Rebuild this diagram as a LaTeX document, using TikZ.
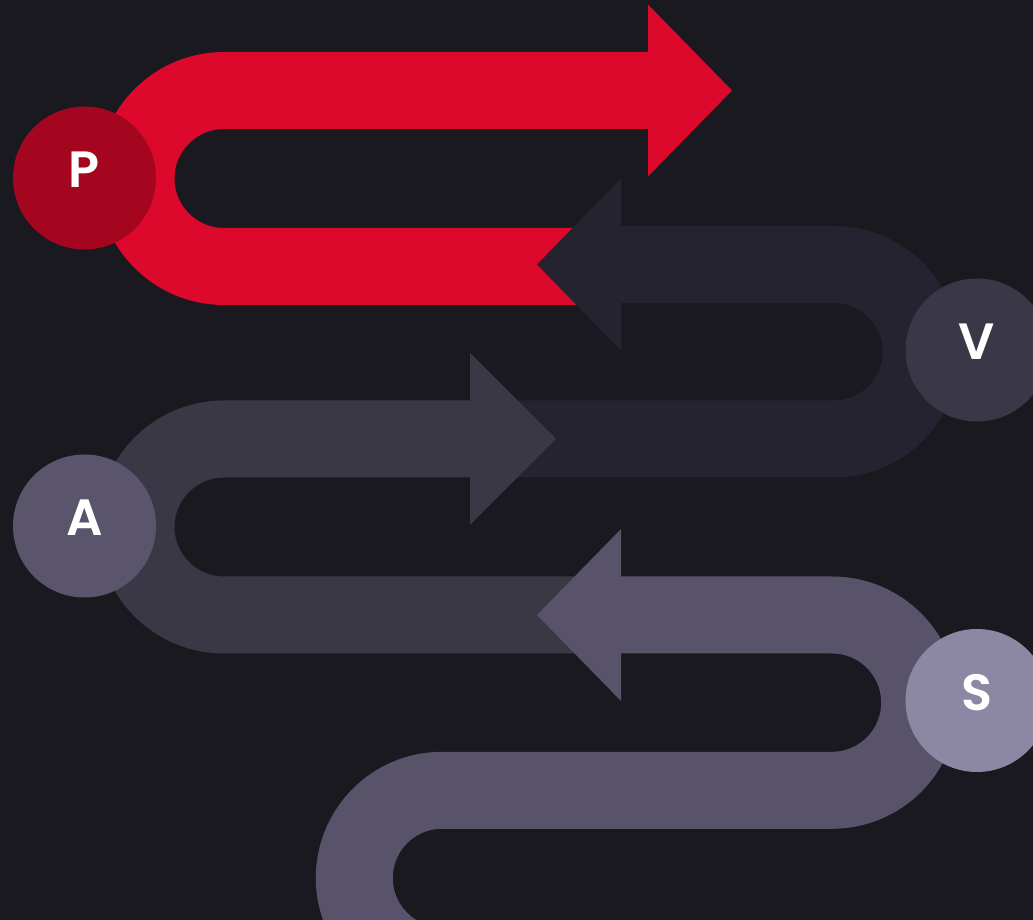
\documentclass[tikz,border=0pt]{standalone}
\usepackage{fontspec}
\setmainfont{Poppins}
\newfontfamily\badgefont{Poppins SemiBold}
\usetikzlibrary{positioning}

\definecolor{bgcol}{HTML}{1A191F}
\definecolor{pband}{HTML}{DC092C}
\definecolor{pdot}{HTML}{A4061F}
\definecolor{vband}{HTML}{25232F}
\definecolor{vdot}{HTML}{3A3746}
\definecolor{aband}{HTML}{3B3846}
\definecolor{adot}{HTML}{5A556C}
\definecolor{sband}{HTML}{58536A}
\definecolor{sdot}{HTML}{8C88A4}

\begin{document}
\begin{tikzpicture}[
  x=1pt, y=1pt,
  band/.style={line width=77pt, draw=#1},
  tip/.style={fill=#1},
  badge/.style={circle, fill=#1, minimum size=143pt, inner sep=0pt, text=white,
    font=\badgefont\fontsize{51}{51}\selectfont, text height=36pt, text depth=16pt}
]

% Background and frame
\fill[bgcol] (0,0) rectangle (1033,920);
\clip (0,0) rectangle (1033,920);

% P band (red), arrow to the right
\draw[band=pband] (600,653.5) -- (224,653.5) arc[start angle=270, end angle=90, radius=88] -- (655,829.5);
\fill[tip=pband] (648,915.5) -- (732,829.5) -- (648,743.5) -- cycle;

% V band, arrow to the left
\draw[band=vband] (500,481) -- (834,481) arc[start angle=-90, end angle=90, radius=87.25] -- (615,655.5);
\fill[tip=vband] (621,741.5) -- (537,655.5) -- (621,569.5) -- cycle;

% A band, arrow to the right
\draw[band=aband] (600,305) -- (224,305) arc[start angle=270, end angle=90, radius=88] -- (476,481);
\fill[tip=aband] (470,567) -- (556,481) -- (470,395) -- cycle;

% S band, arrow to the left
\draw[band=sband] (442,-45.7) arc[start angle=270, end angle=90, radius=87.7] -- (832,129.7)
  arc[start angle=-90, end angle=90, radius=87.65] -- (615,305);
\fill[tip=sband] (621,391) -- (537,305) -- (621,219) -- cycle;

% Badges
\node[badge=pdot] (p) at (84.5,742) {P};
\node[badge=vdot] (v) at (977,570) {V};
\node[badge=adot] (a) at (84.5,394) {A};
\node[badge=sdot] (s) at (977,219.5) {S};

\end{tikzpicture}
\end{document}
